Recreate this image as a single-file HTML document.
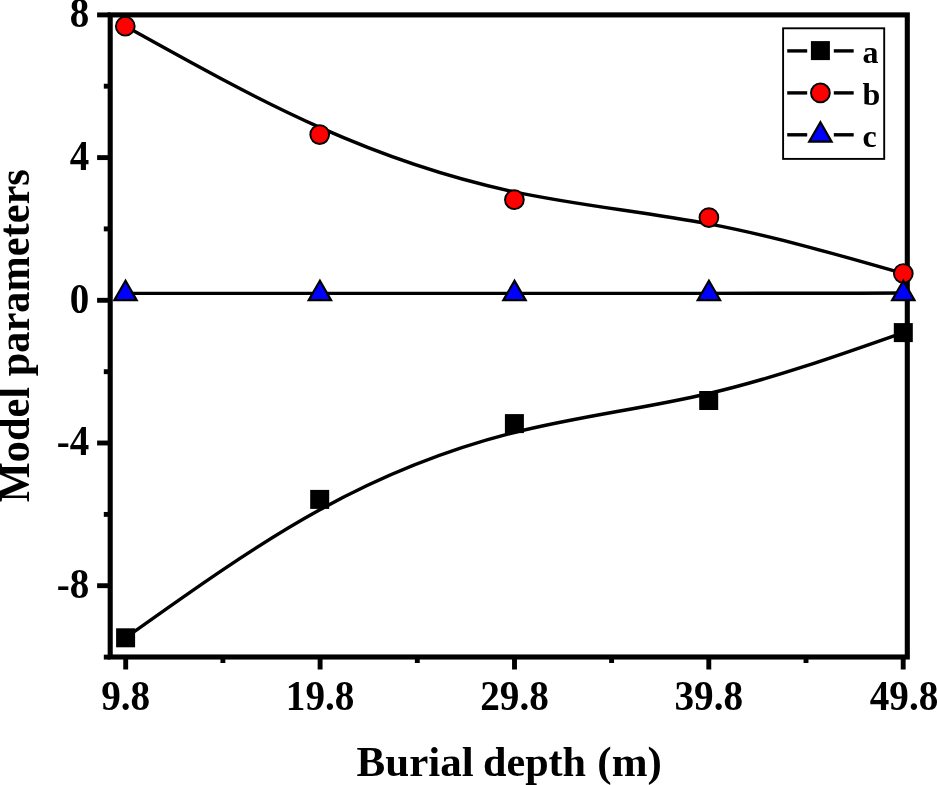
<!DOCTYPE html>
<html><head><meta charset="utf-8"><title>Model parameters vs burial depth</title>
<style>html,body{margin:0;padding:0;background:#fff}body{width:937px;height:785px;overflow:hidden}svg{display:block}text{font-family:"Liberation Serif","Times New Roman",serif;font-weight:bold;fill:#000}</style></head><body>
<svg width="937" height="785" viewBox="0 0 937 785">
<rect width="937" height="785" fill="#fff"/>
<rect x="110.2" y="14.9" width="797.1" height="642.1" fill="none" stroke="#000" stroke-width="5.1"/>
<line x1="97.1" x2="110.2" y1="14.9" y2="14.9" stroke="#000" stroke-width="4.9"/>
<line x1="97.1" x2="110.2" y1="157.6" y2="157.6" stroke="#000" stroke-width="4.9"/>
<line x1="97.1" x2="110.2" y1="300.3" y2="300.3" stroke="#000" stroke-width="4.9"/>
<line x1="97.1" x2="110.2" y1="443.0" y2="443.0" stroke="#000" stroke-width="4.9"/>
<line x1="97.1" x2="110.2" y1="585.7" y2="585.7" stroke="#000" stroke-width="4.9"/>
<line x1="103.8" x2="110.2" y1="86.2" y2="86.2" stroke="#000" stroke-width="4.9"/>
<line x1="103.8" x2="110.2" y1="228.9" y2="228.9" stroke="#000" stroke-width="4.9"/>
<line x1="103.8" x2="110.2" y1="371.7" y2="371.7" stroke="#000" stroke-width="4.9"/>
<line x1="103.8" x2="110.2" y1="514.4" y2="514.4" stroke="#000" stroke-width="4.9"/>
<line x1="103.8" x2="110.2" y1="657.1" y2="657.1" stroke="#000" stroke-width="4.9"/>
<line x1="125.7" x2="125.7" y1="657.0" y2="669.5" stroke="#000" stroke-width="4.9"/>
<line x1="320.1" x2="320.1" y1="657.0" y2="669.5" stroke="#000" stroke-width="4.9"/>
<line x1="514.5" x2="514.5" y1="657.0" y2="669.5" stroke="#000" stroke-width="4.9"/>
<line x1="708.8" x2="708.8" y1="657.0" y2="669.5" stroke="#000" stroke-width="4.9"/>
<line x1="903.2" x2="903.2" y1="657.0" y2="669.5" stroke="#000" stroke-width="4.9"/>
<line x1="222.9" x2="222.9" y1="657.0" y2="663.0" stroke="#000" stroke-width="4.9"/>
<line x1="417.3" x2="417.3" y1="657.0" y2="663.0" stroke="#000" stroke-width="4.9"/>
<line x1="611.6" x2="611.6" y1="657.0" y2="663.0" stroke="#000" stroke-width="4.9"/>
<line x1="806.0" x2="806.0" y1="657.0" y2="663.0" stroke="#000" stroke-width="4.9"/>
<text transform="translate(89.2,27.3) scale(0.975,1.040)" font-size="40" text-anchor="end">8</text>
<text transform="translate(89.2,170.0) scale(0.975,1.040)" font-size="40" text-anchor="end">4</text>
<text transform="translate(89.2,312.7) scale(0.975,1.040)" font-size="40" text-anchor="end">0</text>
<text transform="translate(89.2,455.4) scale(0.975,1.040)" font-size="40" text-anchor="end">-4</text>
<text transform="translate(89.2,598.1) scale(0.975,1.040)" font-size="40" text-anchor="end">-8</text>
<text transform="translate(125.7,709.7) scale(0.980,1.040)" font-size="40" text-anchor="middle">9.8</text>
<text transform="translate(320.1,709.7) scale(0.980,1.040)" font-size="40" text-anchor="middle">19.8</text>
<text transform="translate(514.5,709.7) scale(0.980,1.040)" font-size="40" text-anchor="middle">29.8</text>
<text transform="translate(708.8,709.7) scale(0.980,1.040)" font-size="40" text-anchor="middle">39.8</text>
<text transform="translate(904.0,709.7) scale(0.980,1.040)" font-size="40" text-anchor="middle">49.8</text>
<text y="776.1" font-size="43"><tspan x="356.6">Burial</tspan><tspan x="472.5" textLength="113.5" lengthAdjust="spacingAndGlyphs"> depth</tspan><tspan x="586.6"> (m)</tspan></text>
<text transform="translate(29,335.75) rotate(-90) scale(1,1.05)" font-size="43" text-anchor="middle" textLength="333" lengthAdjust="spacingAndGlyphs">Model parameters</text>
<path d="M125.60 637.80 C190.30 591.67 255.00 545.53 319.80 509.83 C384.60 474.13 449.50 448.87 514.33 432.50 C579.17 416.13 643.93 408.67 708.75 393.50 C773.57 378.33 838.43 355.47 903.30 332.60" fill="none" stroke="#000" stroke-width="3.4" stroke-linecap="butt" stroke-linejoin="round"/>
<path d="M125.30 26.20 C190.10 62.33 254.90 98.47 319.75 127.38 C384.60 156.30 449.50 178.00 514.37 191.83 C579.23 205.67 644.07 211.63 708.88 223.93 C773.70 236.23 838.50 254.87 903.30 273.50" fill="none" stroke="#000" stroke-width="3.4" stroke-linecap="butt" stroke-linejoin="round"/>
<path d="M125.6 293.4 L700 293.4 L860 293.2 L903.3 293.0" fill="none" stroke="#000" stroke-width="3.4"/>
<rect x="116.1" y="628.3" width="19.0" height="19.0" fill="#000"/>
<rect x="310.2" y="489.9" width="19.0" height="19.0" fill="#000"/>
<rect x="504.9" y="414.1" width="19.0" height="19.0" fill="#000"/>
<rect x="699.2" y="391.0" width="19.0" height="19.0" fill="#000"/>
<rect x="893.8" y="323.1" width="19.0" height="19.0" fill="#000"/>
<circle cx="125.3" cy="26.2" r="9.4" fill="#ff0000" stroke="#000" stroke-width="1.9"/>
<circle cx="319.7" cy="134.6" r="9.4" fill="#ff0000" stroke="#000" stroke-width="1.9"/>
<circle cx="514.4" cy="199.7" r="9.4" fill="#ff0000" stroke="#000" stroke-width="1.9"/>
<circle cx="708.9" cy="217.6" r="9.4" fill="#ff0000" stroke="#000" stroke-width="1.9"/>
<circle cx="903.3" cy="273.5" r="9.4" fill="#ff0000" stroke="#000" stroke-width="1.9"/>
<polygon points="125.5,280.8 114.3,300.2 136.7,300.2" fill="#0000ff" stroke="#000" stroke-width="2.2" stroke-linejoin="miter"/>
<polygon points="319.9,280.8 308.7,300.2 331.1,300.2" fill="#0000ff" stroke="#000" stroke-width="2.2" stroke-linejoin="miter"/>
<polygon points="514.5,280.8 503.3,300.2 525.7,300.2" fill="#0000ff" stroke="#000" stroke-width="2.2" stroke-linejoin="miter"/>
<polygon points="708.9,280.8 697.7,300.2 720.1,300.2" fill="#0000ff" stroke="#000" stroke-width="2.2" stroke-linejoin="miter"/>
<polygon points="903.3,280.7 892.1,300.1 914.5,300.1" fill="#0000ff" stroke="#000" stroke-width="2.2" stroke-linejoin="miter"/>
<rect x="783.1" y="28.3" width="101.1" height="130.6" fill="#fff" stroke="#000" stroke-width="1.9"/>
<line x1="787.2" x2="807.2" y1="50.9" y2="50.9" stroke="#000" stroke-width="3.4"/>
<line x1="833.8" x2="853.7" y1="50.9" y2="50.9" stroke="#000" stroke-width="3.4"/>
<rect x="810.9" y="41.1" width="19.0" height="19.0" fill="#000"/>
<text x="862.5" y="62.8" font-size="32">a</text>
<line x1="787.2" x2="807.2" y1="92.9" y2="92.9" stroke="#000" stroke-width="3.4"/>
<line x1="833.8" x2="853.7" y1="92.9" y2="92.9" stroke="#000" stroke-width="3.4"/>
<circle cx="820.4" cy="92.9" r="9.4" fill="#ff0000" stroke="#000" stroke-width="1.9"/>
<text x="862.5" y="104.8" font-size="32">b</text>
<line x1="787.2" x2="807.2" y1="134.8" y2="134.8" stroke="#000" stroke-width="3.4"/>
<line x1="833.8" x2="853.7" y1="134.8" y2="134.8" stroke="#000" stroke-width="3.4"/>
<polygon points="820.4,122.3 809.2,141.7 831.6,141.7" fill="#0000ff" stroke="#000" stroke-width="2.2" stroke-linejoin="miter"/>
<text x="862.5" y="146.7" font-size="32">c</text>
</svg></body></html>
